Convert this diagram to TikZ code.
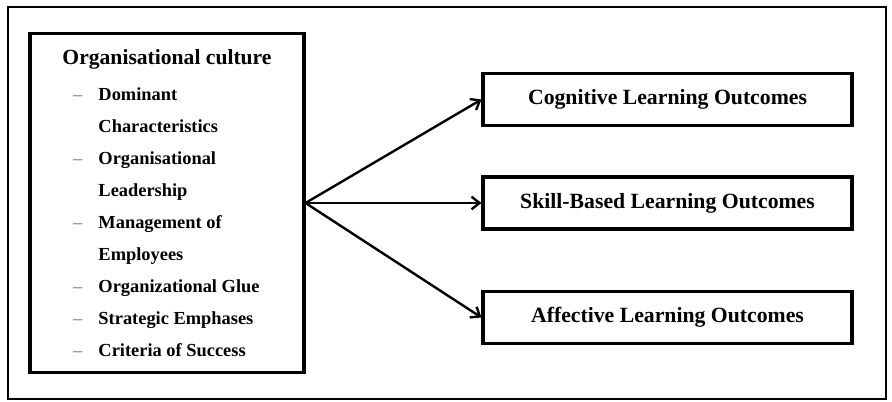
\documentclass[tikz,border=0pt]{standalone}
\usepackage{fontspec}
\setmainfont{Liberation Serif}
\usepackage{xcolor}
\usetikzlibrary{shapes,arrows,arrows.meta,positioning}

\newcommand{\dashmark}{\hspace*{8pt}\makebox[19pt][l]{\textcolor{black!40}{--}}}
\newcommand{\contline}{\hspace*{27pt}}

\begin{document}
\begin{tikzpicture}[
    x=0.75pt, y=-0.75pt,
    frame/.style={draw, line width=2pt},
    culture/.style={rectangle, draw, line width=2.3pt, minimum width=205.5pt, minimum height=254pt, align=left, font=\bfseries\fontsize{13.8}{24}\selectfont},
    outcome/.style={rectangle, draw, line width=2.3pt, minimum width=276.75pt, minimum height=39pt, font=\bfseries\fontsize{16.3}{19}\selectfont},
    line/.style={draw, line width=1.8pt, -{Straight Barb[length=6pt, width=9.5pt, line width=1.8pt]}}
]
    \useasboundingbox (0,0) rectangle (892,402);
    \draw [frame] (8,7) rectangle (886,399);

    \node [culture] (org) at (167,203) {{\fontsize{16.2}{24}\selectfont Organisational culture}\\[3.5pt]
        \dashmark Dominant\\
        \contline Characteristics\\
        \dashmark Organisational\\
        \contline Leadership\\
        \dashmark Management of\\
        \contline Employees\\
        \dashmark Organizational Glue\\
        \dashmark Strategic Emphases\\
        \dashmark Criteria of Success};

    \node [outcome] (cog) at (667.5,99.5) {Cognitive Learning Outcomes};
    \node [outcome] (skill) at (667.5,203) {Skill-Based Learning Outcomes};
    \node [outcome] (affect) at (667.5,317.5) {Affective Learning Outcomes};

    \path [line] (org.east) -- (cog.west);
    \path [line] (org.east) -- (skill.west);
    \path [line] (org.east) -- (affect.west);
\end{tikzpicture}
\end{document}
